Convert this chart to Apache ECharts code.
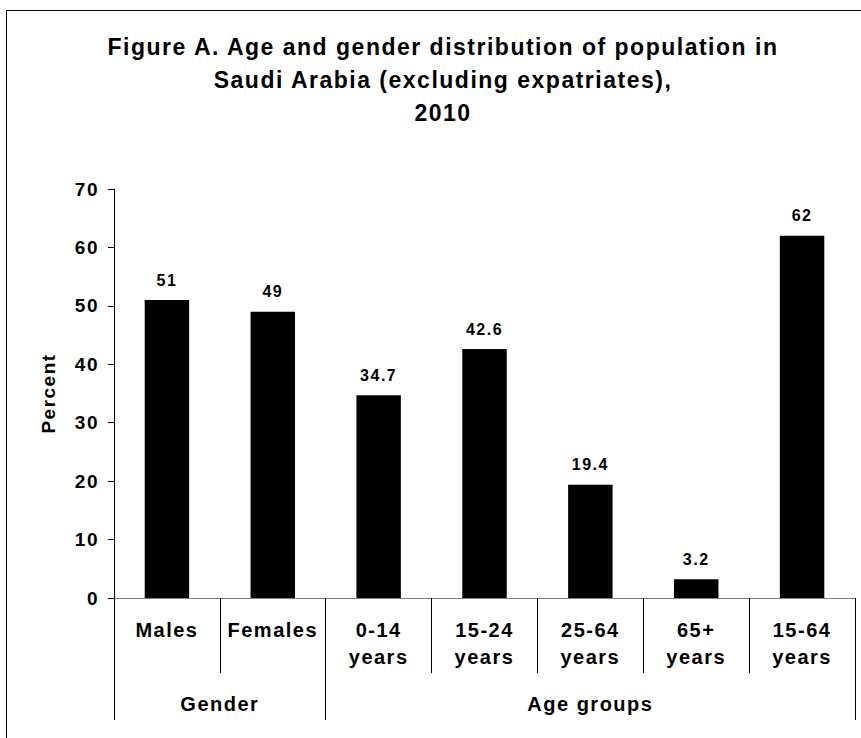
<!DOCTYPE html>
<html>
<head>
<meta charset="utf-8">
<script src="https://cdn.jsdelivr.net/npm/echarts@6/dist/echarts.min.js"></script>
<style>
  html, body { margin: 0; padding: 0; background: #fff; }
  #chart { width: 861px; height: 738px; }
  #chart text { letter-spacing: 1.5px; }
</style>
</head>
<body>
<div id="chart"></div>
<script>
// ---- data ----
const titleLines = ['Figure A. Age and gender distribution of population in', 'Saudi Arabia (excluding expatriates),', '2010'];
const categories = ['Males', 'Females', '0-14\nyears', '15-24\nyears', '25-64\nyears', '65+\nyears', '15-64\nyears'];
const percentValues = [51, 49, 34.7, 42.6, 19.4, 3.2, 62];
const groupNames = ['Gender', 'Age groups'];
const groupSpans = [2, 5];
const yTicks = [0, 10, 20, 30, 40, 50, 60, 70];
const yAxisName = 'Percent';

// group boundaries and midpoints (in category units)
const groupBounds = [0];
groupSpans.forEach(s => groupBounds.push(groupBounds[groupBounds.length - 1] + s));
const groupMids = groupSpans.map((s, i) => groupBounds[i] + s / 2);

const FONT = 'Liberation Sans';
const chart = echarts.init(document.getElementById('chart'), null, { renderer: 'svg' });

chart.setOption({
  animation: false,
  backgroundColor: '#fff',
  title: {
    text: titleLines.join('\n'),
    left: 438,
    top: 25,
    textAlign: 'center',
    textStyle: { fontFamily: FONT, fontWeight: 'bold', fontSize: 23, lineHeight: 33, color: '#000' }
  },
  graphic: [{
    type: 'rect',
    shape: { x: 6.5, y: 10.5, width: 920, height: 820 },
    style: { fill: 'none', stroke: '#000', lineWidth: 1 },
    silent: true, z: -1
  }],
  grid: { left: 114, right: 6, top: 189, bottom: 140, containLabel: false, outerBoundsMode: 'none' },
  xAxis: [{
    type: 'category',
    data: categories,
    position: 'bottom',
    axisLine: { show: true, lineStyle: { color: '#808080', width: 1 } },
    axisTick: { show: true, interval: 0, length: 75, lineStyle: { color: '#000', width: 1 } },
    axisLabel: { interval: 0, margin: 18, fontFamily: FONT, fontWeight: 'bold', fontSize: 20, lineHeight: 27, color: '#000' },
    splitLine: { show: false }
  }, {
    type: 'value',
    position: 'bottom',
    min: 0,
    max: groupBounds[groupBounds.length - 1],
    axisLine: { show: false },
    axisTick: { show: true, customValues: groupBounds, length: 122, lineStyle: { color: '#000', width: 1 } },
    axisLabel: {
      customValues: groupMids,
      margin: 96,
      fontFamily: FONT, fontWeight: 'bold', fontSize: 20, color: '#000',
      formatter: v => {
        const i = groupMids.findIndex(m => Math.abs(m - v) < 1e-6);
        return i >= 0 ? groupNames[i] : '';
      }
    },
    splitLine: { show: false }
  }],
  yAxis: {
    type: 'value',
    min: yTicks[0],
    max: yTicks[yTicks.length - 1],
    interval: 10,
    name: yAxisName,
    nameLocation: 'middle',
    nameRotate: 90,
    nameGap: 56,
    nameTextStyle: { fontFamily: FONT, fontWeight: 'bold', fontSize: 19, color: '#000' },
    axisLine: { show: true, lineStyle: { color: '#000', width: 1 } },
    axisTick: { show: true, length: 6, inside: false, lineStyle: { color: '#000' } },
    axisLabel: { margin: 15, fontFamily: FONT, fontWeight: 'bold', fontSize: 19, color: '#000' },
    splitLine: { show: false }
  },
  series: [{
    type: 'bar',
    xAxisIndex: 0,
    data: percentValues,
    barWidth: '42%',
    itemStyle: { color: '#000' },
    label: {
      show: true,
      position: 'top',
      distance: 12,
      fontFamily: FONT, fontWeight: 'bold', fontSize: 16, color: '#000'
    }
  }]
});
</script>
</body>
</html>
